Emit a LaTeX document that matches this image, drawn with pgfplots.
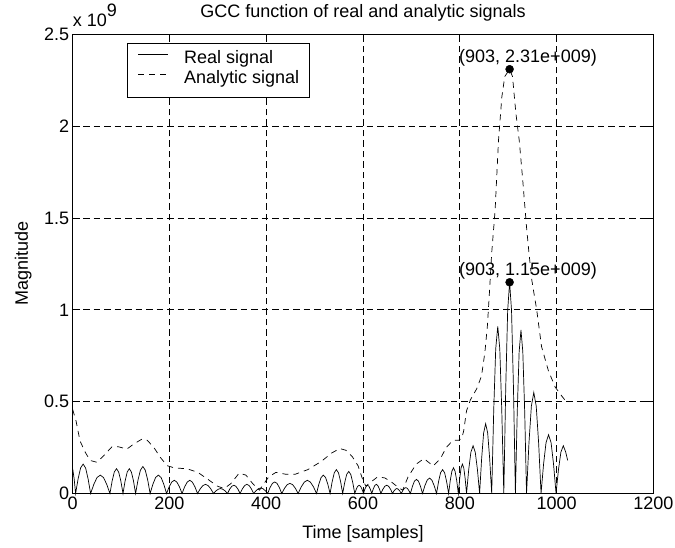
\documentclass[border=0pt]{standalone}
\usepackage{pgfplots}
\pgfplotsset{compat=1.18}
\usepackage{fontspec}
\setmainfont{Liberation Sans}
\begin{document}
\begin{tikzpicture}
\path[use as bounding box] (-72.7bp,-54.5bp) rectangle (602.3bp,493.5bp);
\begin{axis}[
  scale only axis, width=580.6bp, height=459.2bp,
  at={(0,0)}, anchor=south west,
  clip=false,
  xmin=0, xmax=1200, ymin=0, ymax=2.5,
  xtick={0,200,400,600,800,1000,1200},
  ytick={0,0.5,1,1.5,2,2.5},
  font=\fontsize{18bp}{21bp}\selectfont,
  /pgf/number format/assume math mode=true,
  /pgf/number format/1000 sep={},
  tick align=inside, major tick length=7bp,
  tick style={black, line width=0.8bp},
  xtick pos=both, ytick pos=both,
  grid=major,
  major grid style={black, line width=0.7bp, dash pattern=on 6.5bp off 4bp},
  axis line style={black, line width=0.8bp},
  title={GCC function of real and analytic signals},
  title style={at={(axis description cs:0.5,1)}, anchor=base, yshift=11bp, inner sep=0pt},
  xlabel={Time [samples]},
  xlabel style={at={(axis description cs:0.5,0)}, anchor=base, yshift=-45bp, inner sep=0pt},
  ylabel={Magnitude},
  ylabel style={at={(axis description cs:-0.0851,0.5)}, anchor=center, inner sep=0pt},
  legend cell align=left,
  legend style={at={(rel axis cs:0.093,0.980)}, anchor=north west, draw=black, line width=0.8bp, fill=white,
    inner xsep=10.6bp, inner ysep=6.8bp, row sep=0pt,
    nodes={inner sep=0pt, text height=13bp, text depth=7.2bp},
    /tikz/every odd column/.append style={column sep=15.7bp}},
  legend image code/.code={\draw[#1] (0bp,6.6bp) -- (30bp,6.6bp);},
]
\addplot[black, line width=0.7bp] coordinates {
(0,0.134)(3,0.08)(6,0)
(11.2,0.08)(16.3,0.139)(21.5,0.16)(26.7,0.139)(31.8,0.08)(37,0)
(43.7,0.05)(50.3,0.087)(57,0.10)(63.7,0.087)(70.3,0.05)(77,0)
(81.5,0.068)(86,0.117)(90.5,0.135)(95,0.117)(99.5,0.068)(104,0)
(108.3,0.068)(112.7,0.117)(117,0.135)(121.3,0.117)(125.7,0.068)(130,0)
(135,0.074)(140,0.127)(145,0.147)(150,0.127)(155,0.074)(160,0)
(165.7,0.05)(171.3,0.087)(177,0.10)(182.7,0.087)(188.3,0.05)(194,0)
(199.3,0.036)(204.7,0.062)(210,0.072)(215.3,0.062)(220.7,0.036)(226,0)
(231.3,0.036)(236.7,0.062)(242,0.072)(247.3,0.062)(252.7,0.036)(258,0)
(263.5,0.025)(269,0.043)(274.5,0.05)(280,0.043)(285.5,0.025)(291,0)
(295.8,0.014)(300.7,0.023)(305.5,0.027)(310.3,0.023)(315.2,0.014)(320,0)
(324.3,0.023)(328.7,0.039)(333,0.045)(337.3,0.039)(341.7,0.023)(346,0)
(350.7,0.025)(355.3,0.043)(360,0.05)(364.7,0.043)(369.3,0.025)(374,0)
(378.8,0.015)(383.7,0.026)(388.5,0.03)(393.3,0.026)(398.2,0.015)(403,0)
(407.8,0.032)(412.7,0.055)(417.5,0.063)(422.3,0.055)(427.2,0.032)(432,0)
(437.7,0.028)(443.3,0.048)(449,0.055)(454.7,0.048)(460.3,0.028)(466,0)
(472.3,0.036)(478.7,0.062)(485,0.072)(491.3,0.062)(497.7,0.036)(504,0)
(508.7,0.05)(513.3,0.087)(518,0.10)(522.7,0.087)(527.3,0.05)(532,0)
(536.3,0.065)(540.7,0.113)(545,0.13)(549.3,0.113)(553.7,0.065)(558,0)
(562.2,0.06)(566.3,0.104)(570.5,0.12)(574.7,0.104)(578.8,0.06)(583,0)
(586,0.023)(589,0.039)(592,0.045)(595,0.039)(598,0.023)(601,0)
(603.8,0.023)(606.7,0.039)(609.5,0.045)(612.3,0.039)(615.2,0.023)(618,0)
(621.2,0.025)(624.3,0.043)(627.5,0.05)(630.7,0.043)(633.8,0.025)(637,0)
(641,0.023)(645,0.039)(649,0.045)(653,0.039)(657,0.023)(661,0)
(664,0.014)(667,0.023)(670,0.027)(673,0.023)(676,0.014)(679,0)
(682.2,0.016)(685.3,0.028)(688.5,0.032)(691.7,0.028)(694.8,0.016)(698,0)
(702.2,0.039)(706.3,0.067)(710.5,0.077)(714.7,0.067)(718.8,0.039)(723,0)
(727.8,0.042)(732.7,0.073)(737.5,0.084)(742.3,0.073)(747.2,0.042)(752,0)
(756.2,0.065)(760.3,0.113)(764.5,0.13)(768.7,0.113)(772.8,0.065)(777,0)
(780.3,0.07)(783.7,0.121)(787,0.14)(790.3,0.121)(793.7,0.07)(797,0)
(799.8,0.08)(802.7,0.139)(805.5,0.16)(808.3,0.139)(811.2,0.08)(814,0)
(818.5,0.13)(823,0.225)(827.5,0.26)(832,0.225)(836.5,0.13)(841,0)
(845.2,0.19)(849.3,0.329)(853.5,0.38)(857.7,0.329)(861.8,0.19)(866,0)
(870.2,0.455)(874.3,0.788)(878.5,0.91)(882.7,0.788)(886.8,0.455)(891,0)
(895,0.575)(899,0.996)(903,1.15)(907,0.996)(911,0.575)(915,0)
(918.8,0.445)(922.7,0.771)(926.5,0.89)(930.3,0.771)(934.2,0.445)(938,0)
(943,0.275)(948,0.476)(953,0.55)(958,0.476)(963,0.275)(968,0)
(973.2,0.16)(978.3,0.277)(983.5,0.32)(988.7,0.277)(993.8,0.16)(999,0)
(1004,0.13)(1009,0.225)(1014,0.26)(1019,0.225)(1023,0.18)
};
\addlegendentry{Real signal}
\addplot[black, line width=0.7bp, dash pattern=on 6bp off 5bp] coordinates {
(0,0.457)(7,0.394)(15,0.287)(26,0.224)(36,0.18)(50,0.17)(64,0.206)(81,0.254)(95,0.254)(112,0.242)
(126,0.269)(143,0.296)(154,0.29)(168,0.25)(181,0.197)(195,0.152)(209,0.14)(237,0.134)(258,0.116)
(278,0.08)(299,0.04)(313,0.027)(327,0.054)(344,0.111)(358,0.1)(372,0.054)(386,0.018)(397,0.06)
(405,0.09)(420,0.115)(440,0.105)(460,0.105)(486,0.13)(514,0.175)(535,0.22)(552,0.245)(565,0.235)
(578,0.2)(590,0.15)(600,0.07)(606,0.04)(615,0.06)(630,0.09)(645,0.085)(660,0.06)(672,0.035)
(682,0.018)(693,0.09)(710,0.16)(726,0.19)(745,0.15)(760,0.19)(772,0.25)(786,0.29)(798,0.29)
(804,0.3)(808,0.34)(814,0.45)(822,0.51)(835,0.57)(845,0.64)(852,0.77)(857,0.91)(861,1.08)
(866,1.31)(873,1.54)(880,1.92)(887,2.16)(893,2.27)(903,2.31)(909,2.27)(916,2.07)(923,1.92)
(930,1.71)(938,1.45)(943,1.31)(949,1.16)(959,1.0)(969,0.8)(983,0.67)(997,0.58)(1011,0.53)(1023,0.49)
};
\addlegendentry{Analytic signal}
\addplot[only marks, mark=*, mark size=4bp, black, forget plot] coordinates {(903,2.31) (903,1.15)};
\node[anchor=base, inner sep=0pt, xshift=18.4bp, yshift=6.7bp] at (axis cs:903,2.31) {(903, 2.31e+009)};
\node[anchor=base, inner sep=0pt, xshift=18.4bp, yshift=6.7bp] at (axis cs:903,1.15) {(903, 1.15e+009)};
\node[anchor=base west, inner sep=0pt, yshift=7.6bp] at (rel axis cs:0,1) {x 10\raisebox{10.5bp}{9}};
\end{axis}
\end{tikzpicture}
\end{document}
